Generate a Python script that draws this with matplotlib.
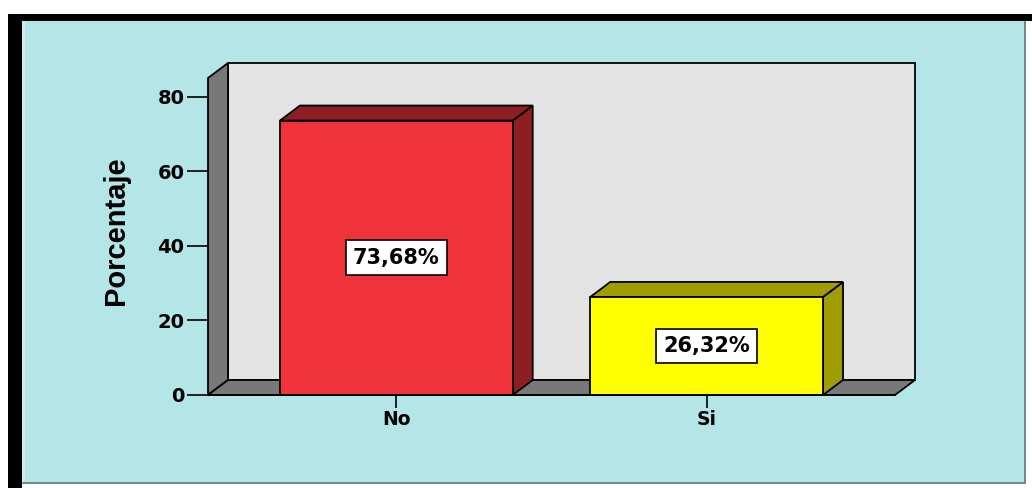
import matplotlib
matplotlib.use('Agg')
import matplotlib.pyplot as plt
from matplotlib.patches import Rectangle, Polygon
from matplotlib import font_manager

# data
categories = ['No', 'Si']
percent = [73.68, 26.32]
labels = ['73,68%', '26,32%']
front_colors = ['#F0333B', '#FFFF00']
side_colors = ['#8F1E23', '#A09D00']

W, H = 1032, 488
fig = plt.figure(figsize=(W / 100, H / 100), dpi=100)
fig.patch.set_facecolor('white')


def px_rect(x0, y0, x1, y1, **kw):
    # rectangle given in pixel coords, y measured from the top
    r = Rectangle((x0 / W, 1 - y1 / H), (x1 - x0) / W, (y1 - y0) / H,
                  transform=fig.transFigure, **kw)
    fig.add_artist(r)


# outer frame
px_rect(22, 21, 1026, 484, facecolor='#B4E6E8', edgecolor='none', zorder=0)
px_rect(1024, 21, 1026, 484, facecolor='#6E8C8E', edgecolor='none', zorder=0)
px_rect(22, 482, 1026, 484, facecolor='#6E8C8E', edgecolor='none', zorder=0)
px_rect(8, 14, 22, 488, facecolor='black', edgecolor='none', zorder=0)
px_rect(8, 14, 1032, 21, facecolor='black', edgecolor='none', zorder=0)
px_rect(22, 21, 25, 482, facecolor='#D8E8EA', edgecolor='none', zorder=0)

# axes = front plane of the 3D box
x_left, x_right, y_zero, y_top = 208, 895, 395, 78
ax = fig.add_axes([x_left / W, 1 - y_zero / H, (x_right - x_left) / W, (y_zero - y_top) / H])
ax.patch.set_visible(False)
xmin, xmax = -0.607, 1.607
ymin, ymax = 0, 85.1
ax.set_xlim(xmin, xmax)
ax.set_ylim(ymin, ymax)
for s in ax.spines.values():
    s.set_visible(False)

# depth offsets in data units
dx = 20 * (xmax - xmin) / (x_right - x_left)
dy = 15 * (ymax - ymin) / (y_zero - y_top)
lw = 1.3

# back wall, left wall, floor
ax.add_patch(Polygon([(xmin + dx, dy), (xmax + dx, dy), (xmax + dx, ymax + dy), (xmin + dx, ymax + dy)],
                     closed=True, facecolor='#E3E3E3', edgecolor='black', lw=lw, clip_on=False, zorder=1))
ax.add_patch(Polygon([(xmin, 0), (xmin + dx, dy), (xmin + dx, ymax + dy), (xmin, ymax)],
                     closed=True, facecolor='#787878', edgecolor='black', lw=lw, clip_on=False, zorder=2))
ax.add_patch(Polygon([(xmin, 0), (xmax, 0), (xmax + dx, dy), (xmin + dx, dy)],
                     closed=True, facecolor='#787878', edgecolor='black', lw=lw, clip_on=False, zorder=2))

# bars
width = 0.75
bars = ax.bar(range(len(categories)), percent, width=width, color=front_colors,
              edgecolor='black', linewidth=lw, zorder=4, clip_on=False)
for i, (b, v) in enumerate(zip(bars, percent)):
    x0, x1 = b.get_x(), b.get_x() + b.get_width()
    ax.add_patch(Polygon([(x1, 0), (x1 + dx, dy), (x1 + dx, v + dy), (x1, v)], closed=True,
                         facecolor=side_colors[i], edgecolor='black', lw=lw, clip_on=False, zorder=3))
    ax.add_patch(Polygon([(x0, v), (x1, v), (x1 + dx, v + dy), (x0 + dx, v + dy)], closed=True,
                         facecolor=side_colors[i], edgecolor='black', lw=lw, clip_on=False, zorder=3))
    ax.text(b.get_x() + b.get_width() / 2, v / 2, labels[i], ha='center', va='center',
            fontsize=15, fontweight='bold', family='DejaVu Sans', zorder=6,
            bbox=dict(boxstyle='square,pad=0.35', facecolor='white', edgecolor='black', lw=1.2))

# front base line
ax.plot([xmin, xmax], [0, 0], color='black', lw=lw, zorder=5, clip_on=False)

ax.set_yticks([0, 20, 40, 60, 80])
ax.set_xticks(range(len(categories)))
ax.set_xticklabels(categories)
ax.tick_params(axis='y', length=15, width=1.2, pad=2, labelsize=14)
ax.tick_params(axis='x', length=9, width=1.2, pad=2, labelsize=13.5)
for t in ax.get_xticklabels() + ax.get_yticklabels():
    t.set_fontweight('bold')

names = {f.name for f in font_manager.fontManager.ttflist}
label_font = 'Liberation Sans Narrow' if 'Liberation Sans Narrow' in names else 'Liberation Sans'
ax.set_ylabel('Porcentaje', fontsize=21, fontweight='bold', family=label_font)
ax.yaxis.set_label_coords((130 - x_left) / (x_right - x_left), (y_zero - 231) / (y_zero - y_top))

fig.savefig('out.png', dpi=100)
